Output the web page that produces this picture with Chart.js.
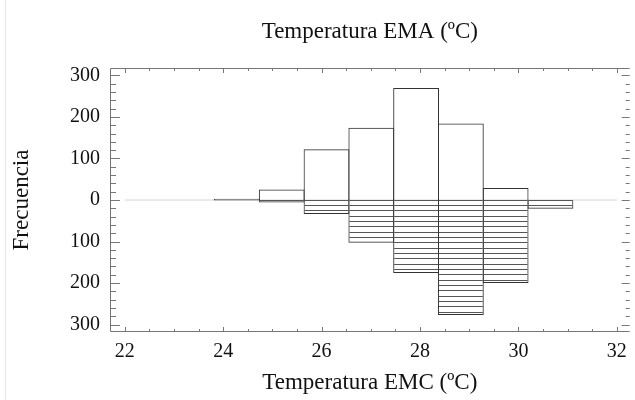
<!DOCTYPE html>
<html>
<head>
<meta charset="utf-8">
<script src="https://cdn.jsdelivr.net/npm/chart.js@4"></script>
<style>
  html, body { margin: 0; padding: 0; background: #fff; }
  #wrap { position: relative; width: 635px; height: 400px; }
  #edge { position: absolute; left: 5px; top: 0; width: 1px; height: 400px; background: #e6e6e6; }
</style>
</head>
<body>
<div id="wrap">
  <div id="edge"></div>
  <canvas id="hist" width="635" height="400"></canvas>
</div>
<script>
// bin centres (ºC) and counts
const binCenters = [24.28, 25.19, 26.10, 27.01, 27.92, 28.83, 29.74, 30.65];
const emaCounts = [3, 25, 122, 174, 270, 184, 29, 0];
const emcCounts = [1, 6, 34, 103, 176, 277, 200, 21];
const xTicks = [22, 24, 26, 28, 30, 32];
const yTicks = [-300, -200, -100, 0, 100, 200, 300];
const xMinorStep = 0.5;
const yMinorStep = 20;

const serif = "'Liberation Serif', 'DejaVu Serif', serif";

// horizontal hatching for the lower (EMC) bars
function hatch() {
  const c = document.createElement("canvas");
  c.width = 8;
  c.height = 16;
  const g = c.getContext("2d");
  g.fillStyle = "#555";
  [2, 8, 13].forEach((r) => g.fillRect(0, r, 8, 1));
  return g.createPattern(c, "repeat");
}

// box with inner ticks on all four sides
const frame = {
  id: "frame",
  afterDatasetsDraw(chart) {
    const { ctx, chartArea: a, scales } = chart;
    const x = scales.x, y = scales.y;
    ctx.save();
    ctx.strokeStyle = "#777";
    ctx.lineWidth = 1;
    ctx.beginPath();
    ctx.moveTo(a.right, a.top + 0.5);
    ctx.lineTo(a.left + 0.5, a.top + 0.5);
    ctx.lineTo(a.left + 0.5, a.bottom - 0.5);
    ctx.lineTo(a.right, a.bottom - 0.5);
    const x0 = xTicks[0], x1 = xTicks[xTicks.length - 1];
    for (let v = x0; v <= x1 + 1e-9; v += xMinorStep) {
      const px = Math.round(x.getPixelForValue(v)) + 0.5;
      const len = xTicks.includes(v) ? 5 : 3;
      ctx.moveTo(px, a.bottom);
      ctx.lineTo(px, a.bottom - len);
      ctx.moveTo(px, a.top);
      ctx.lineTo(px, a.top + len);
    }
    const y0 = yTicks[0], y1 = yTicks[yTicks.length - 1];
    for (let v = y0; v <= y1; v += yMinorStep) {
      const py = Math.round(y.getPixelForValue(v)) + 0.5;
      const major = yTicks.includes(v);
      ctx.moveTo(a.left, py);
      ctx.lineTo(a.left + (major ? 10 : 6), py);
      ctx.moveTo(a.right, py);
      ctx.lineTo(a.right - (major ? 8 : 4), py);
    }
    ctx.stroke();
    ctx.restore();
  },
};

const ctx = document.getElementById("hist").getContext("2d");

// slightly over 1 so neighbouring bars share one edge
const barPct = 1.023;

const chart = new Chart(ctx, {
  type: "bar",
  data: {
    datasets: [
      {
        label: "EMA",
        data: binCenters.map((c, i) => ({ x: c, y: emaCounts[i] })),
        backgroundColor: "rgba(255,255,255,0)",
        borderColor: "#333",
        borderWidth: 1,
        grouped: false,
        barPercentage: barPct,
        categoryPercentage: 1,
        order: 1,
      },
      {
        label: "EMC",
        data: binCenters.map((c, i) => ({ x: c, y: -emcCounts[i] })),
        backgroundColor: hatch(),
        borderColor: "#333",
        borderWidth: 1,
        grouped: false,
        barPercentage: barPct,
        categoryPercentage: 1,
        order: 1,
      },
      {
        type: "line",
        label: "cero",
        data: [
          { x: xTicks[0], y: 0 },
          { x: xTicks[xTicks.length - 1], y: 0 },
        ],
        borderColor: "#d4d4d4",
        borderWidth: 1,
        pointRadius: 0,
        order: 2,
      },
    ],
  },
  options: {
    responsive: false,
    animation: false,
    layout: { padding: 0 },
    plugins: {
      legend: { display: false },
      tooltip: { enabled: false },
    },
    scales: {
      x: {
        type: "linear",
        position: "bottom",
        min: 21.7,
        max: 32.26,
        offset: false,
        afterBuildTicks: (s) => { s.ticks = xTicks.map((v) => ({ value: v })); },
        afterFit: (s) => { s.height = 68; },
        grid: { display: false, drawTicks: false },
        border: { display: false },
        ticks: { color: "#111", padding: 8, font: { family: serif, size: 20 } },
        title: {
          display: true,
          text: "Temperatura EMC (ºC)",
          color: "#111",
          padding: { bottom: 3 },
          font: { family: serif, size: 23 },
        },
      },
      xTop: {
        type: "linear",
        position: "top",
        min: 21.7,
        max: 32.26,
        afterFit: (s) => { s.height = 68; },
        grid: { display: false, drawTicks: false },
        border: { display: false },
        ticks: { display: false },
        title: {
          display: true,
          text: "Temperatura EMA (ºC)",
          color: "#111",
          padding: { top: 18 },
          font: { family: serif, size: 23 },
        },
      },
      y: {
        min: -318,
        max: 318,
        afterBuildTicks: (s) => { s.ticks = yTicks.map((v) => ({ value: v })); },
        afterFit: (s) => { s.width = 110; },
        grid: { display: false, drawTicks: false },
        border: { display: false },
        ticks: {
          color: "#111",
          padding: 10,
          font: { family: serif, size: 20 },
          callback: (v) => Math.abs(v),
        },
        title: {
          display: true,
          text: "Frecuencia",
          color: "#111",
          padding: { top: 8 },
          font: { family: serif, size: 23 },
        },
      },
    },
  },
  plugins: [frame],
});
</script>
</body>
</html>
